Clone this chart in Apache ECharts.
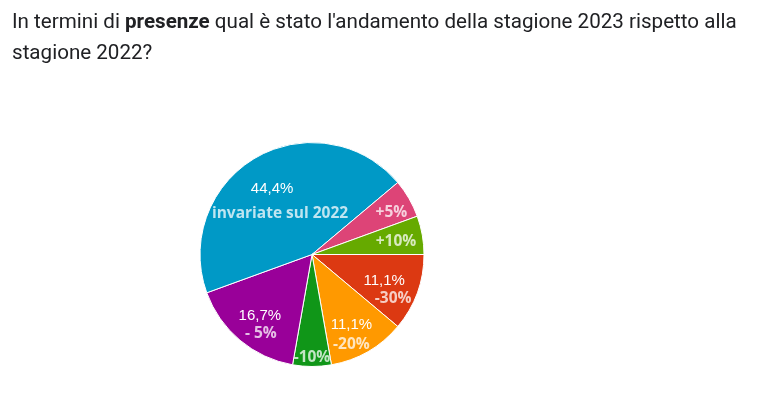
<!DOCTYPE html>
<html><head><meta charset="utf-8">
<script src="https://cdn.jsdelivr.net/npm/echarts@6/dist/echarts.min.js"></script>
<style>html,body{margin:0;padding:0;background:#fff}#c{width:779px;height:396px}</style>
</head><body><div id="c"></div>
<script>
// ---- data ----
const categories = ['-30%', '-20%', '-10%', '- 5%', 'invariate sul 2022', '+5%', '+10%'];
const responses = [2, 2, 1, 3, 8, 1, 1];
const sliceColors = ['#dc3912', '#ff9900', '#109618', '#990099', '#0099c6', '#dd4477', '#66aa00'];
const titleBefore = 'In termini di ';
const titleBold = 'presenze';
const titleAfter = " qual è stato l'andamento della stagione 2023 rispetto alla";
const titleLine2 = 'stagione 2022?';

// ---- label placement (styling, not data) ----
const labelRadius = [84, 90, 103, 87, 66, 90, 85];
const labelAngleShift = [5, 4, 0, -4, -3, 2, 1];
const pctShift = [8, 0, 0, 2, 8, 0, 0];   // extra right padding on percent line (px)
const nameShift = [10, 0, 0, 0, 8, 0, 0]; // extra left padding on name line (px)
const pieCenter = [312, 254.5];
const pieR = 112;

const total = responses.reduce((a, b) => a + b, 0);
const cum = [];
responses.reduce((acc, v, i) => { cum[i] = acc; return acc + v; }, 0);

function pct(v) {
  return (v / total * 100).toFixed(1).replace('.', ',') + '%';
}

const data = categories.map((name, i) => {
  const item = {
    name: name, value: responses[i], itemStyle: { color: sliceColors[i] },
    label: { rich: {
      p: { padding: [0, pctShift[i], 0, 0] },
      n: { padding: [0, 0, 0, nameShift[i]] }
    } }
  };
  if (i === 4) {
    item.label.rich.p.lineHeight = 28;
    item.label.rich.n.lineHeight = 20;
  }
  if (i === 1) {
    item.label.rich.p.lineHeight = 19;
    item.label.rich.n.lineHeight = 21;
  }
  return item;
});

const chart = echarts.init(document.getElementById('c'));
chart.setOption({
  backgroundColor: '#fff',
  animation: false,
  title: {
    left: 12,
    top: 7,
    padding: 0,
    text: '{a|' + titleBefore + '}{b|' + titleBold + '}{a|' + titleAfter + '}\n{a|' + titleLine2 + '}',
    textStyle: {
      fontWeight: 'normal',
      rich: {
        a: { fontFamily: 'Roboto', fontSize: 20.6, fontWeight: 'normal', color: '#202124', lineHeight: 31 },
        b: { fontFamily: 'Roboto', fontSize: 20.6, fontWeight: 'bold', color: '#202124', lineHeight: 31 }
      }
    }
  },
  series: [{
    type: 'pie',
    center: pieCenter,
    radius: [0, pieR],
    startAngle: 0,
    clockwise: true,
    avoidLabelOverlap: false,
    itemStyle: { borderColor: '#fff', borderWidth: 1 },
    emphasis: { disabled: true },
    label: {
      show: true,
      position: 'inside',
      formatter: function (p) {
        const share = p.value / total;
        return (share >= 0.1 ? '{p|' + pct(p.value) + '}\n' : '') + '{n|' + p.name + '}';
      },
      rich: {
        p: { fontFamily: 'Liberation Sans, Arial', fontSize: 15, color: '#ffffff', lineHeight: 17, align: 'center' },
        n: { fontFamily: 'Open Sans', fontSize: 15.5, fontWeight: 'bold', color: 'rgba(255,255,255,0.75)', lineHeight: 19, align: 'center' }
      }
    },
    labelLine: { show: false },
    labelLayout: function (params) {
      const i = params.dataIndex;
      const mid = (cum[i] + responses[i] / 2) / total * 360 + labelAngleShift[i];
      const a = mid * Math.PI / 180;
      return { x: pieCenter[0] + labelRadius[i] * Math.cos(a), y: pieCenter[1] + labelRadius[i] * Math.sin(a) };
    },
    data: data
  }]
});
</script>
</body></html>
